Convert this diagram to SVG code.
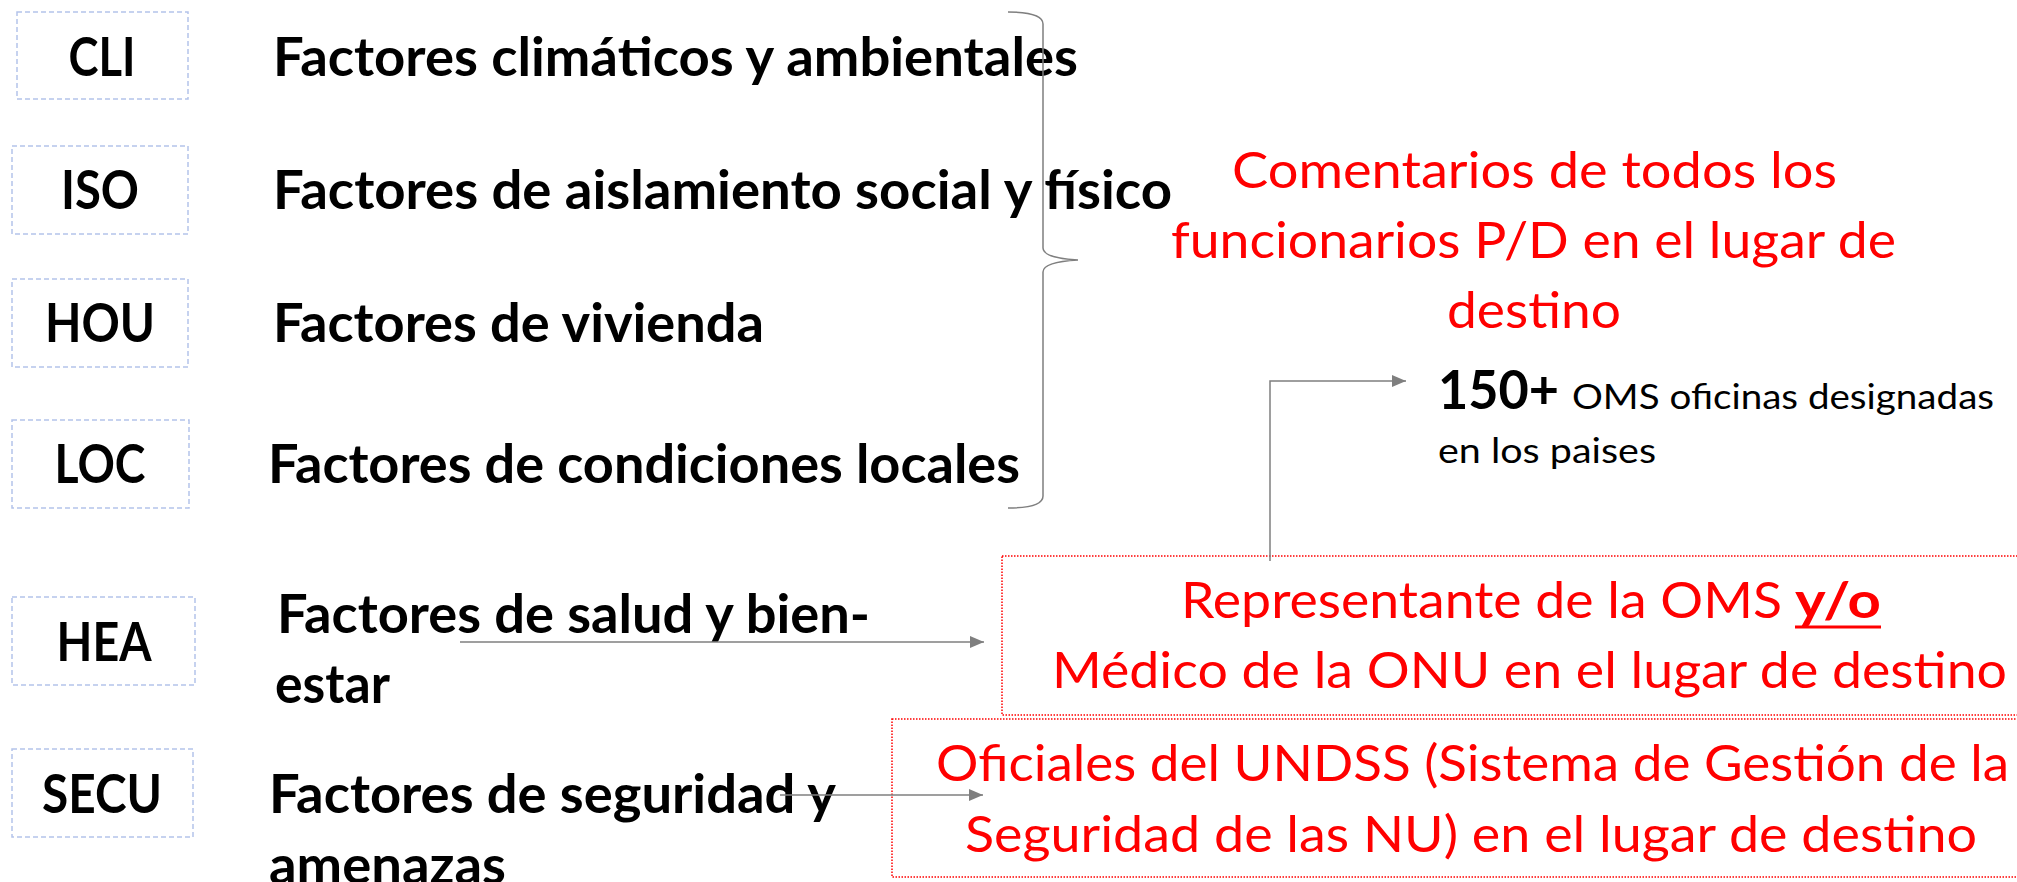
<svg xmlns="http://www.w3.org/2000/svg" width="2017" height="882" viewBox="0 0 2017 882">
<style>
.lbl{font-family:Lato,"Open Sans","Liberation Sans",sans-serif;font-weight:700;font-size:53px;fill:#000}
.fac{font-family:Lato,"Open Sans","Liberation Sans",sans-serif;font-weight:700;font-size:53px;fill:#000}
.red{font-family:Lato,"Open Sans","Liberation Sans",sans-serif;font-size:50px;fill:#ff0000}
.reg{font-family:Lato,"Open Sans","Liberation Sans",sans-serif;font-size:35px;fill:#000}
.box{fill:none;stroke:#b4c3ea;stroke-width:1.5;stroke-dasharray:5,3}
.rbox{fill:none;stroke:#ff0000;stroke-width:1.5;stroke-dasharray:1.5,1.5}
.conn{fill:none;stroke:#7f7f7f;stroke-width:1.5}
</style>
<defs>
<marker id="arr2" viewBox="0 0 14 12" refX="14" refY="6" markerWidth="14" markerHeight="12" markerUnits="userSpaceOnUse" orient="auto">
<path d="M0,0 L14,6 L0,12 z" fill="#7f7f7f"/>
</marker>
</defs>

<g id="CLI">
<rect class="box" x="17" y="12" width="171" height="87"/>
<text class="lbl" x="102" y="76" text-anchor="middle" textLength="67" lengthAdjust="spacingAndGlyphs">CLI</text>
<text class="fac" x="273" y="76" textLength="805" lengthAdjust="spacingAndGlyphs">Factores climáticos y ambientales</text>
</g>
<g id="ISO">
<rect class="box" x="12" y="146" width="176" height="88"/>
<text class="lbl" x="100" y="209" text-anchor="middle" textLength="78" lengthAdjust="spacingAndGlyphs">ISO</text>
<text class="fac" x="273" y="209" textLength="899" lengthAdjust="spacingAndGlyphs">Factores de aislamiento social y físico</text>
</g>
<g id="HOU">
<rect class="box" x="12" y="279" width="176" height="88"/>
<text class="lbl" x="100" y="342" text-anchor="middle" textLength="110" lengthAdjust="spacingAndGlyphs">HOU</text>
<text class="fac" x="273" y="342" textLength="491" lengthAdjust="spacingAndGlyphs">Factores de vivienda</text>
</g>
<g id="LOC">
<rect class="box" x="12" y="420" width="177" height="88"/>
<text class="lbl" x="100" y="483" text-anchor="middle" textLength="91" lengthAdjust="spacingAndGlyphs">LOC</text>
<text class="fac" x="268" y="483" textLength="752" lengthAdjust="spacingAndGlyphs">Factores de condiciones locales</text>
</g>
<g id="HEA">
<rect class="box" x="12" y="597" width="183" height="88"/>
<text class="lbl" x="104" y="661" text-anchor="middle" textLength="95" lengthAdjust="spacingAndGlyphs">HEA</text>
<text class="fac" x="277" y="633" textLength="593" lengthAdjust="spacingAndGlyphs">Factores de salud y bien-</text>
<text class="fac" x="275" y="703" textLength="115" lengthAdjust="spacingAndGlyphs">estar</text>
</g>
<g id="SECU">
<rect class="box" x="12" y="749" width="181" height="88"/>
<text class="lbl" x="102" y="813" text-anchor="middle" textLength="120" lengthAdjust="spacingAndGlyphs">SECU</text>
<text class="fac" x="269" y="813" textLength="567" lengthAdjust="spacingAndGlyphs">Factores de seguridad y</text>
<text class="fac" x="269" y="884" textLength="237" lengthAdjust="spacingAndGlyphs">amenazas</text>
</g>

<g id="comentarios">
<text class="red" x="1232" y="188" textLength="605" lengthAdjust="spacingAndGlyphs">Comentarios de todos los</text>
<text class="red" x="1171" y="258" textLength="725" lengthAdjust="spacingAndGlyphs">funcionarios P/D en el lugar de</text>
<text class="red" x="1447" y="328" textLength="174" lengthAdjust="spacingAndGlyphs">destino</text>
</g>

<g id="oficinas">
<text class="fac" x="1438" y="409" textLength="121" lengthAdjust="spacingAndGlyphs">150+</text>
<text class="reg" x="1572" y="409" textLength="422" lengthAdjust="spacingAndGlyphs">OMS oficinas designadas</text>
<text class="reg" x="1438" y="463" textLength="218" lengthAdjust="spacingAndGlyphs">en los paises</text>
</g>

<g id="representante">
<rect class="rbox" x="1002" y="556" width="1030" height="159"/>
<text class="red" x="1181" y="618" textLength="601" lengthAdjust="spacingAndGlyphs">Representante de la OMS</text>
<text class="red" x="1795" y="618" font-weight="700" textLength="86" lengthAdjust="spacingAndGlyphs">y/o</text>
<line x1="1795" y1="627" x2="1881" y2="627" stroke="#ff0000" stroke-width="3"/>
<text class="red" x="1052" y="688" textLength="955" lengthAdjust="spacingAndGlyphs">Médico de la ONU en el lugar de destino</text>
</g>

<g id="undss">
<rect class="rbox" x="892" y="719" width="1140" height="158"/>
<text class="red" x="936" y="781" textLength="1073" lengthAdjust="spacingAndGlyphs">Oficiales del UNDSS (Sistema de Gestión de la</text>
<text class="red" x="965" y="852" textLength="1012" lengthAdjust="spacingAndGlyphs">Seguridad de las NU) en el lugar de destino</text>
</g>

<g id="connectors">
<path class="conn" d="M1008,12 Q1043,12 1043,24 L1043,248 Q1043,258 1078,260 Q1043,262 1043,272 L1043,496 Q1043,508 1008,508"/>
<path class="conn" d="M1270,561 L1270,381 L1406,381" marker-end="url(#arr2)"/>
<line class="conn" x1="460" y1="642" x2="984" y2="642" marker-end="url(#arr2)"/>
<line class="conn" x1="780" y1="795" x2="983" y2="795" marker-end="url(#arr2)"/>
</g>
</svg>
